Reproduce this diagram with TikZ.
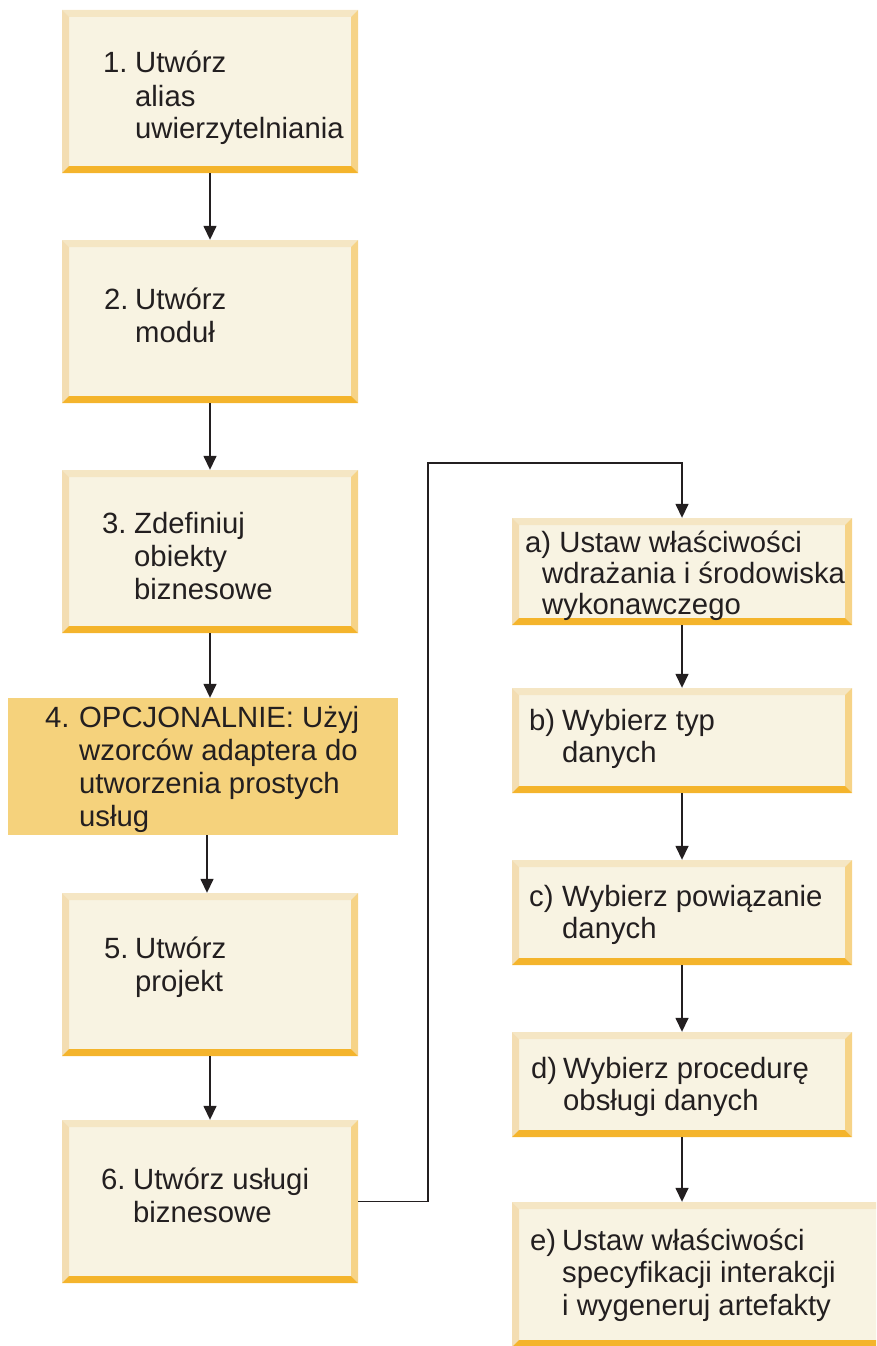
\documentclass[tikz,border=0pt]{standalone}
\usepackage{fontspec}
\setmainfont{Liberation Sans}
\usetikzlibrary{arrows.meta,fit}
\definecolor{cream}{HTML}{F8F3E2}
\definecolor{btop}{HTML}{F5E6C4}
\definecolor{bleft}{HTML}{F3DDB2}
\definecolor{bright}{HTML}{F6D387}
\definecolor{bbot}{HTML}{F4B42C}
\definecolor{optfill}{HTML}{F5D27C}
\definecolor{ink}{HTML}{231F20}
\def\ppb{path picture bounding box}
\tikzset{
  bevelbox/.style={draw=none, fill=cream, inner sep=0pt, path picture={
    \fill[btop] (\ppb.north west) -- (\ppb.north east) -- ([shift={(-7pt,-7pt)}]\ppb.north east) -- ([shift={(7pt,-7pt)}]\ppb.north west) -- cycle;
    \fill[bleft] (\ppb.north west) -- ([shift={(7pt,-7pt)}]\ppb.north west) -- ([shift={(7pt,7pt)}]\ppb.south west) -- (\ppb.south west) -- cycle;
    \fill[bright] (\ppb.north east) -- ([shift={(-7pt,-7pt)}]\ppb.north east) -- ([shift={(-7pt,7pt)}]\ppb.south east) -- (\ppb.south east) -- cycle;
    \fill[bbot] (\ppb.south west) -- ([shift={(7pt,7pt)}]\ppb.south west) -- ([shift={(-7pt,7pt)}]\ppb.south east) -- (\ppb.south east) -- cycle;
  }},
  optbox/.style={draw=none, fill=optfill, inner sep=0pt},
  steptext/.style={anchor=base west, inner sep=0pt, text=ink, font=\fontsize{29.3}{33}\selectfont},
  subtext/.style={steptext, font=\fontsize{29.3}{32.5}\selectfont},
  arr/.style={draw=ink, line width=1.5pt, -{Triangle[length=14pt,width=13pt]}},
}
\begin{document}
\begin{tikzpicture}[x=1pt,y=-1pt]
\useasboundingbox (0,0) rectangle (876,1346);
\clip (0,0) rectangle (876,1346);
% boxes
\node[bevelbox, fit={(62,10) (358,173)}] (b1) {};
\node[bevelbox, fit={(62,240) (358,403)}] (b2) {};
\node[bevelbox, fit={(62,470) (358,633)}] (b3) {};
\node[optbox, fit={(8,698) (398,835)}] (b4) {};
\node[bevelbox, fit={(62,893) (358,1056)}] (b5) {};
\node[bevelbox, fit={(62,1120) (358,1283)}] (b6) {};
\node[bevelbox, fit={(512,518) (852,625)}] (ba) {};
\node[bevelbox, fit={(512,688) (852,793)}] (bb) {};
\node[bevelbox, fit={(512,860) (852,965)}] (bc) {};
\node[bevelbox, fit={(512,1032) (852,1137)}] (bd) {};
\node[bevelbox, fit={(512,1202) (900,1347)}] (be) {};
% texts
\node[steptext] (t1) at (103,73) {\begin{tabular}[t]{@{}l@{}l@{}}\makebox[32pt][l]{1.}&Utwórz\\&alias\\&uwierzytelniania\end{tabular}};
\node[steptext] (t2) at (104,309) {\begin{tabular}[t]{@{}l@{}l@{}}\makebox[31pt][l]{2.}&Utwórz\\&moduł\end{tabular}};
\node[steptext] (t3) at (102,533) {\begin{tabular}[t]{@{}l@{}l@{}}\makebox[32pt][l]{3.}&Zdefiniuj\\&obiekty\\&biznesowe\end{tabular}};
\node[steptext] (t4) at (45,727) {\begin{tabular}[t]{@{}l@{}l@{}}\makebox[34pt][l]{4.}&OPCJONALNIE: Użyj\\&wzorców adaptera do\\&utworzenia prostych\\&usług\end{tabular}};
\node[steptext] (t5) at (104,958) {\begin{tabular}[t]{@{}l@{}l@{}}\makebox[31pt][l]{5.}&Utwórz\\&projekt\end{tabular}};
\node[steptext] (t6) at (101,1189) {\begin{tabular}[t]{@{}l@{}l@{}}\makebox[32pt][l]{6.}&Utwórz usługi\\&biznesowe\end{tabular}};
\node[subtext, font=\fontsize{29.3}{31}\selectfont] (ta) at (525,552) {\begin{tabular}[t]{@{}l@{}l@{}}\multicolumn{2}{@{}l@{}}{a) Ustaw właściwości}\\\makebox[17pt][l]{}&wdrażania i środowiska\\&wykonawczego\end{tabular}};
\node[subtext] (tb) at (529,730) {\begin{tabular}[t]{@{}l@{}l@{}}\makebox[33pt][l]{b)}&Wybierz typ\\&danych\end{tabular}};
\node[subtext] (tc) at (529,906) {\begin{tabular}[t]{@{}l@{}l@{}}\makebox[33pt][l]{c)}&Wybierz powiązanie\\&danych\end{tabular}};
\node[subtext] (td) at (531,1078) {\begin{tabular}[t]{@{}l@{}l@{}}\makebox[32pt][l]{d)}&Wybierz procedurę\\&obsługi danych\end{tabular}};
\node[subtext] (te) at (530,1250) {\begin{tabular}[t]{@{}l@{}l@{}}\makebox[32pt][l]{e)}&Ustaw właściwości\\&specyfikacji interakcji\\&i wygeneruj artefakty\end{tabular}};
% connectors
\draw[arr] (b1.south) -- (b2.north);
\draw[arr] (b2.south) -- (b3.north);
\draw[arr] (b3.south) -- (b3.south |- b4.north);
\draw[arr] ([xshift=-3pt]b4.south -| b5.north) -- ([xshift=-3pt]b5.north);
\draw[arr] (b5.south) -- (b6.north);
\coordinate (j1) at (428,463);
\draw[arr] (b6.east) -| (j1) -| (ba.north);
\draw[arr] (ba.south) -- (bb.north);
\draw[arr] (bb.south) -- (bc.north);
\draw[arr] (bc.south) -- (bd.north);
\draw[arr] (bd.south) -- (bd.south |- be.north);
\end{tikzpicture}
\end{document}
